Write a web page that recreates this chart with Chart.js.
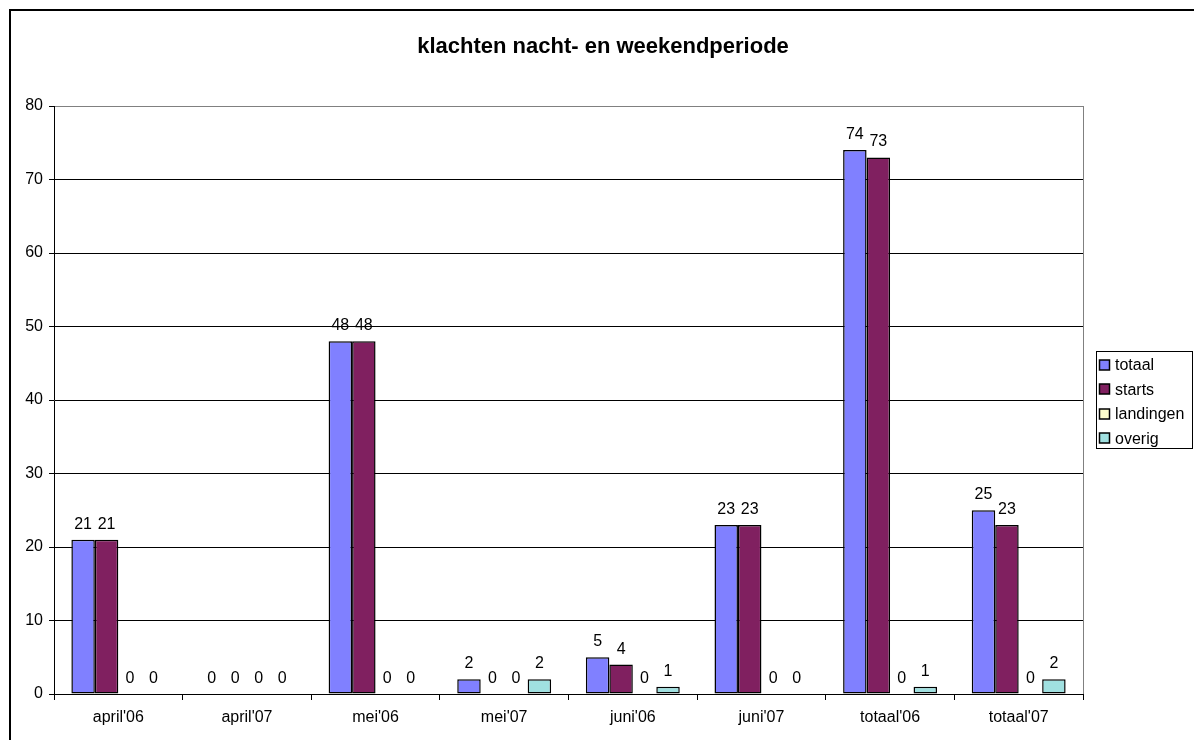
<!DOCTYPE html>
<html>
<head>
<meta charset="utf-8">
<script src="https://cdn.jsdelivr.net/npm/chart.js@4/dist/chart.umd.min.js"></script>
<style>
  body { margin: 0; background: #fff; }
  canvas { display: block; }
</style>
</head>
<body>
<canvas id="grafiek" width="1194" height="740"></canvas>
<script>
const titel = 'klachten nacht- en weekendperiode';
const maanden = ["april'06", "april'07", "mei'06", "mei'07", "juni'06", "juni'07", "totaal'06", "totaal'07"];
const reeksNamen = ['totaal', 'starts', 'landingen', 'overig'];
const totaal = [21, 0, 48, 2, 5, 23, 74, 25];
const starts = [21, 0, 48, 0, 4, 23, 73, 23];
const landingen = [0, 0, 0, 0, 0, 0, 0, 0];
const overig = [0, 0, 0, 2, 1, 0, 1, 2];
const kleuren = ['#8080FF', '#802060', '#FFFFCC', '#A0E0E0'];

const lettertype = "'Liberation Sans', Arial, sans-serif";

const versiering = {
    id: 'versiering',
    beforeDraw(chart) {
        const ctx = chart.ctx;
        ctx.save();
        ctx.fillStyle = '#fff';
        ctx.fillRect(0, 0, chart.width, chart.height);
        ctx.restore();
    },
    afterDatasetsDraw(chart) {
        const ctx = chart.ctx;
        ctx.save();
        ctx.font = '16px ' + lettertype;
        ctx.fillStyle = '#000';
        ctx.textAlign = 'center';
        ctx.textBaseline = 'alphabetic';
        chart.data.datasets.forEach((ds, i) => {
            const meta = chart.getDatasetMeta(i);
            meta.data.forEach((bar, j) => {
                ctx.fillText(String(ds.data[j]), bar.x, bar.y - 11);
            });
        });
        ctx.restore();
    },
    afterDraw(chart) {
        const ctx = chart.ctx;
        const area = chart.chartArea;
        ctx.save();

        // grijze rand rechts van het plotvlak
        ctx.strokeStyle = '#808080';
        ctx.lineWidth = 1;
        ctx.beginPath();
        ctx.moveTo(Math.round(area.right) + 0.5, area.top);
        ctx.lineTo(Math.round(area.right) + 0.5, area.bottom);
        ctx.stroke();

        // titel
        ctx.fillStyle = '#000';
        ctx.font = 'bold 22px ' + lettertype;
        ctx.textAlign = 'center';
        ctx.textBaseline = 'alphabetic';
        ctx.fillText(titel, 603, 53);

        // legenda
        ctx.strokeStyle = '#000';
        ctx.strokeRect(1096.5, 351.5, 96, 97);
        ctx.font = '16px ' + lettertype;
        ctx.textAlign = 'left';
        ctx.textBaseline = 'middle';
        ctx.lineWidth = 1.5;
        chart.data.datasets.forEach((ds, i) => {
            const y = 365 + i * 24.4;
            ctx.fillStyle = ds.backgroundColor;
            ctx.fillRect(1099.5, Math.round(y - 5), 10, 10);
            ctx.strokeRect(1099.5, Math.round(y - 5), 10, 10);
            ctx.fillStyle = '#000';
            ctx.fillText(ds.label, 1115, y + 1);
        });

        // buitenrand
        ctx.lineWidth = 2;
        ctx.beginPath();
        ctx.moveTo(10, chart.height);
        ctx.lineTo(10, 10);
        ctx.lineTo(chart.width, 10);
        ctx.stroke();
        ctx.restore();
    }
};

const reeksen = [totaal, starts, landingen, overig];

new Chart(document.getElementById('grafiek'), {
    type: 'bar',
    data: {
        labels: maanden,
        datasets: reeksen.map((waarden, i) => ({
            label: reeksNamen[i],
            data: waarden,
            backgroundColor: kleuren[i],
            borderColor: '#000',
            borderWidth: 1.5,
            borderSkipped: false,
            categoryPercentage: 0.73,
            barPercentage: 1
        }))
    },
    options: {
        responsive: false,
        animation: false,
        layout: { padding: { top: 106, left: 0, right: 111, bottom: 0 } },
        plugins: {
            legend: { display: false },
            title: { display: false },
            tooltip: { enabled: false }
        },
        scales: {
            x: {
                afterFit: s => { s.height = 46; },
                grid: {
                    drawOnChartArea: false,
                    drawTicks: true,
                    tickLength: 6,
                    tickColor: '#000'
                },
                border: { color: '#000', width: 1 },
                ticks: {
                    color: '#000',
                    padding: 8,
                    maxRotation: 0,
                    font: { family: lettertype, size: 16 }
                }
            },
            y: {
                min: 0,
                max: 80,
                afterFit: s => { s.width = 54; },
                grid: {
                    color: c => (c.tick && c.tick.value === 80 ? '#808080' : '#000'),
                    tickColor: '#000',
                    tickLength: 5
                },
                border: { color: '#000', width: 1 },
                ticks: {
                    stepSize: 10,
                    color: '#000',
                    padding: 6,
                    font: { family: lettertype, size: 16 }
                }
            }
        }
    },
    plugins: [versiering]
});
</script>
</body>
</html>
